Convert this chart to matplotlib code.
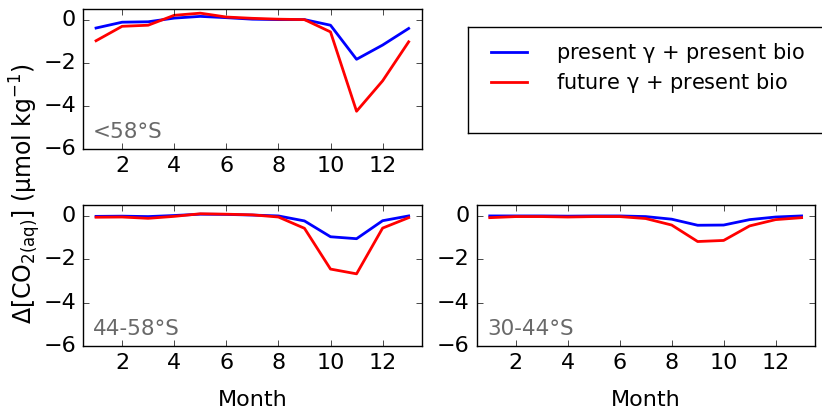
import matplotlib
matplotlib.use("Agg")
import matplotlib.pyplot as plt

plt.style.use("classic")
plt.rcParams["font.family"] = "DejaVu Sans"
plt.rcParams["mathtext.default"] = "regular"

months = [1, 2, 3, 4, 5, 6, 7, 8, 9, 10, 11, 12, 13]

# <58°S
south_present = [-0.39, -0.12, -0.10, 0.07, 0.15, 0.09, 0.02, 0.0, 0.0, -0.26, -1.84, -1.18, -0.41]
south_future = [-0.98, -0.31, -0.26, 0.20, 0.30, 0.12, 0.06, 0.02, 0.0, -0.57, -4.25, -2.84, -1.03]

# 44-58°S
mid_present = [-0.02, -0.01, -0.03, 0.02, 0.08, 0.07, 0.04, 0.0, -0.23, -0.96, -1.05, -0.22, 0.0]
mid_future = [-0.06, -0.05, -0.11, -0.02, 0.10, 0.08, 0.05, -0.05, -0.57, -2.45, -2.67, -0.56, -0.08]

# 30-44°S
north_present = [0.0, 0.0, 0.0, -0.01, 0.0, 0.0, -0.03, -0.15, -0.43, -0.42, -0.17, -0.05, 0.0]
north_future = [-0.08, -0.03, -0.03, -0.05, -0.03, -0.03, -0.12, -0.42, -1.18, -1.13, -0.46, -0.17, -0.08]

labels = ["present $\\gamma$ + present bio", "future $\\gamma$ + present bio"]

fig = plt.figure(figsize=(8.22, 4.11), dpi=100, facecolor="white")

ax1 = fig.add_axes([0.101, 0.6375, 0.412, 0.341])
ax2 = fig.add_axes([0.101, 0.158, 0.412, 0.343])
ax3 = fig.add_axes([0.580, 0.158, 0.411, 0.343])

panels = [
    (ax1, south_present, south_future, "<58°S"),
    (ax2, mid_present, mid_future, "44-58°S"),
    (ax3, north_present, north_future, "30-44°S"),
]

for ax, pres, fut, name in panels:
    ax.plot(months, pres, color="blue", lw=2, label=labels[0])
    ax.plot(months, fut, color="red", lw=2, label=labels[1])
    ax.set_xlim(0.5, 13.5)
    ax.set_ylim(-6, 0.5)
    ax.set_xticks([2, 4, 6, 8, 10, 12])
    ax.set_yticks([0, -2, -4, -6])
    ax.tick_params(labelsize=16, length=4, pad=5)
    ax.text(0.03, 0.05, name, transform=ax.transAxes, color="dimgray",
            fontsize=15.5, ha="left", va="bottom")

ax2.set_xlabel("Month", fontsize=16, labelpad=12)
ax3.set_xlabel("Month", fontsize=16, labelpad=12)

fig.text(0.03, 0.53, "$\\Delta$[CO$_{2(aq)}$] (μmol kg$^{-1}$)",
         rotation=90, fontsize=17, ha="center", va="center")

# legend box
lax = fig.add_axes([0.569, 0.676, 0.45, 0.258])
lax.set_xticks([])
lax.set_yticks([])
handles, _ = ax1.get_legend_handles_labels()
lax.legend(handles, labels, loc="upper left", frameon=False, fontsize=15,
           handlelength=2.3, handletextpad=1.1, labelspacing=0.3,
           borderaxespad=0.15, bbox_to_anchor=(0.016, 0.975))

fig.savefig("out.png", dpi=100, facecolor="white")
